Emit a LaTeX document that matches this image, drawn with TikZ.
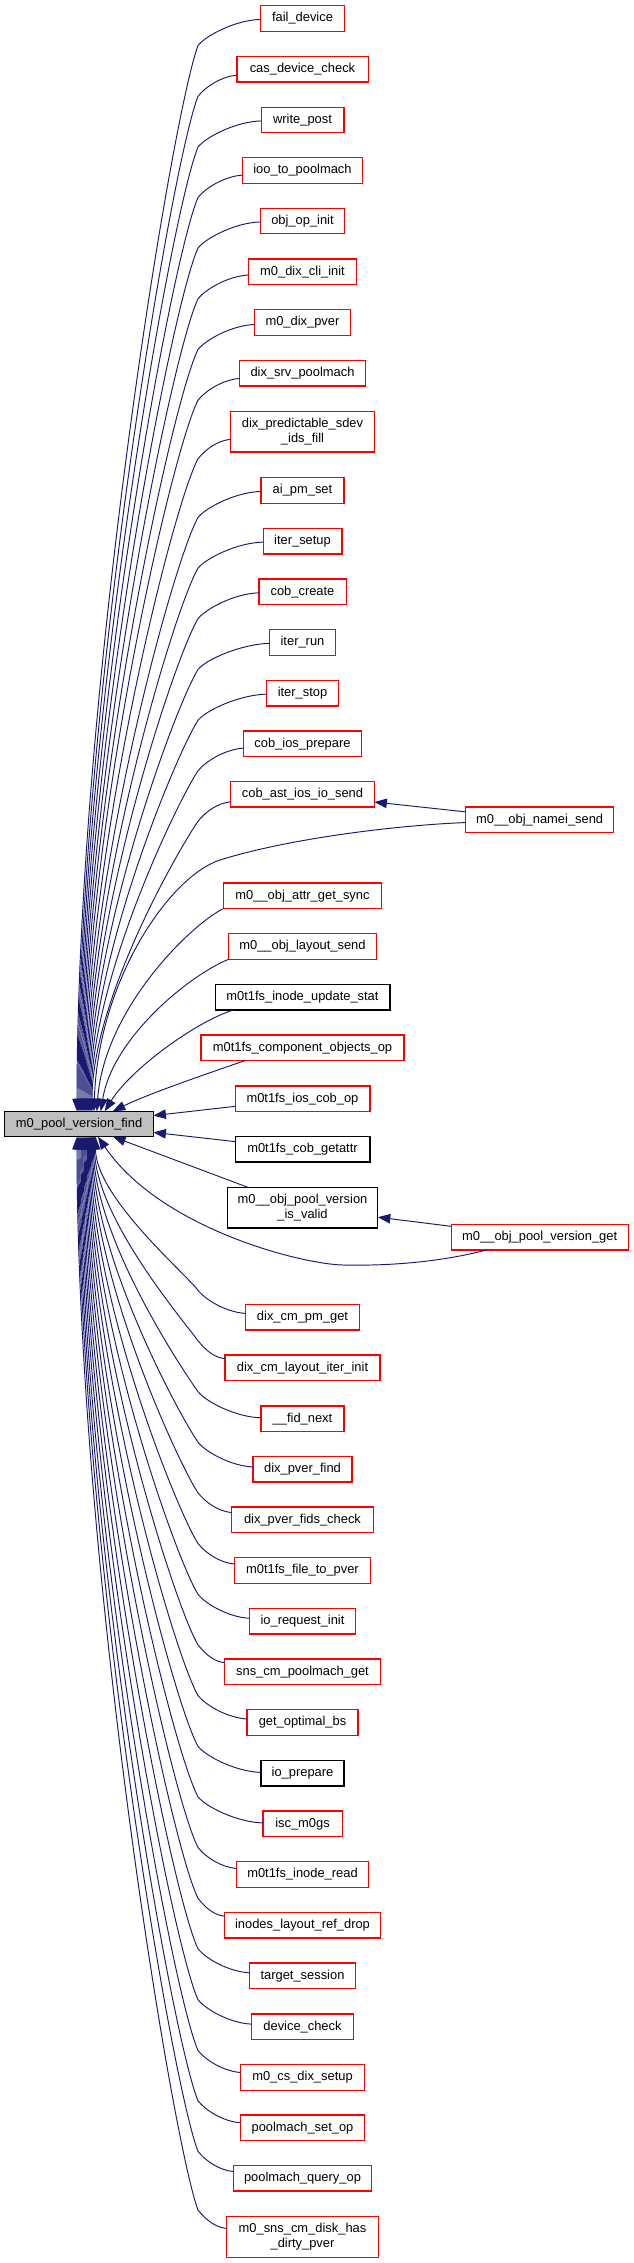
\documentclass[tikz,border=0pt]{standalone}
\usepackage{fontspec}
\setmainfont{Liberation Sans}
\usetikzlibrary{arrows.meta}
\definecolor{edgeblue}{HTML}{191970}
\definecolor{rootgray}{HTML}{BFBFBF}
\definecolor{boxred}{HTML}{FF0000}
\tikzset{
  fnbox/.style={draw=boxred, line width=1.2pt, minimum height=25.5pt, inner xsep=1pt, inner ysep=0pt, outer sep=0pt, font=\fontsize{12.9pt}{15pt}\selectfont, text=black},
  blk/.style={draw=black},
  twoline/.style={minimum height=40.3pt, align=center},
  rootbox/.style={draw=black, fill=rootgray},
  edge/.style={draw=edgeblue, line width=0.95pt, -{Triangle[length=12.5pt,width=9.5pt]}},
}
\newcommand\callernode[5]{%
  \node[fnbox,#4,minimum width=#3pt] (#1) at (302.5,#2) {#5};}
\newcommand\upedge[4]{%
  \pgfmathsetmacro\eXl{302.5-#3/2}%
  \pgfmathsetmacro\eBy{#2+27}%
  \pgfmathsetmacro\eD{1111-\eBy}%
  \pgfmathsetmacro\eS{max(0.37,0.37+0.3*(1064-\eD)/720)}%
  \pgfmathsetmacro\eL{0.06*\eD+8}%
  \pgfmathsetmacro\ePx{\eXl-0.4*(\eXl-198)}%
  \pgfmathsetmacro\ePy{#2+max(1.5,1.5+0.25*(260-\eXl))}%
  \pgfmathsetmacro\eQy{#2+17}%
  \pgfmathsetmacro\eRx{198-\eS*\eL}%
  \pgfmathsetmacro\eRy{\eBy+\eL}%
  \pgfmathsetmacro\eTy{1111-0.39*\eD}%
  \pgfmathsetmacro\eSh{#4-4.8}%
  \draw[edge] (#1) .. controls (\ePx,\ePy) and (206,\eQy) .. (198,\eBy) .. controls (\eRx,\eRy) and (#4,\eTy) .. ([xshift=\eSh pt]find.north west);}
\newcommand\downedge[4]{%
  \pgfmathsetmacro\eXl{302.5-#3/2}%
  \pgfmathsetmacro\eBy{#2-27}%
  \pgfmathsetmacro\eD{\eBy-1136.7}%
  \pgfmathsetmacro\eS{max(0.37,0.37+0.3*(1064-\eD)/720)}%
  \pgfmathsetmacro\eL{0.06*\eD+8}%
  \pgfmathsetmacro\ePx{\eXl-0.4*(\eXl-198)}%
  \pgfmathsetmacro\ePy{#2-max(1.5,1.5+0.25*(260-\eXl))}%
  \pgfmathsetmacro\eQy{#2-17}%
  \pgfmathsetmacro\eRx{198-\eS*\eL}%
  \pgfmathsetmacro\eRy{\eBy-\eL}%
  \pgfmathsetmacro\eTy{1136.7+0.39*\eD}%
  \pgfmathsetmacro\eSh{#4-4.8}%
  \draw[edge] (#1) .. controls (\ePx,\ePy) and (206,\eQy) .. (198,\eBy) .. controls (\eRx,\eRy) and (#4,\eTy) .. ([xshift=\eSh pt]find.south west);}
\begin{document}
\begin{tikzpicture}[x=1pt,y=-1pt]
\useasboundingbox (0,0) rectangle (633,2263);
% root
\node[fnbox,rootbox,minimum width=148.6pt] (find) at (79.1,1124) {m0\_pool\_version\_find};
% callers above
\callernode{n1}{18.5}{84}{}{fail\_device}
\callernode{n2}{69.3}{131.2}{}{cas\_device\_check}
\callernode{n3}{120}{82.8}{}{write\_post}
\callernode{n4}{170.5}{120.3}{}{ioo\_to\_poolmach}
\callernode{n5}{221}{84}{}{obj\_op\_init}
\callernode{n6}{271.8}{108.2}{}{m0\_dix\_cli\_init}
\callernode{n7}{322.5}{96.1}{}{m0\_dix\_pver}
\callernode{n8}{373.2}{126.4}{}{dix\_srv\_poolmach}
\callernode{n9}{431.8}{143.7}{twoline}{dix\_predictable\_sdev\\\_ids\_fill}
\callernode{n10}{490.5}{83}{}{ai\_pm\_set}
\callernode{n11}{541.2}{78.8}{}{iter\_setup}
\callernode{n12}{591.7}{87.2}{}{cob\_create}
\callernode{n13}{642.5}{65.3}{}{iter\_run}
\callernode{n14}{693.3}{71.9}{}{iter\_stop}
\callernode{n15}{743.8}{117.6}{}{cob\_ios\_prepare}
\callernode{n16}{794.3}{143.7}{}{cob\_ast\_ios\_io\_send}
\callernode{n17}{895.7}{157.7}{}{m0\_\_obj\_attr\_get\_sync}
\callernode{n18}{946.5}{147.8}{}{m0\_\_obj\_layout\_send}
\callernode{n19}{997.3}{174.8}{blk}{m0t1fs\_inode\_update\_stat}
\callernode{n20}{1047.8}{203}{}{m0t1fs\_component\_objects\_op}
\callernode{n21}{1098.7}{134.8}{}{m0t1fs\_ios\_cob\_op}
% callers below
\callernode{n22}{1149.2}{134.8}{blk}{m0t1fs\_cob\_getattr}
\callernode{n23}{1207.8}{150.6}{blk,twoline}{m0\_\_obj\_pool\_version\\\_is\_valid}
\callernode{n24}{1317.3}{114.7}{}{dix\_cm\_pm\_get}
\callernode{n25}{1367.7}{155}{}{dix\_cm\_layout\_iter\_init}
\callernode{n26}{1418.7}{83}{}{\_\_fid\_next}
\callernode{n27}{1469.2}{98.9}{}{dix\_pver\_find}
\callernode{n28}{1519.8}{141.7}{}{dix\_pver\_fids\_check}
\callernode{n29}{1570.5}{136}{}{m0t1fs\_file\_to\_pver}
\callernode{n30}{1621.3}{106.7}{}{io\_request\_init}
\callernode{n31}{1671.8}{155.8}{}{sns\_cm\_poolmach\_get}
\callernode{n32}{1722.5}{111}{}{get\_optimal\_bs}
\callernode{n33}{1773.3}{83}{blk}{io\_prepare}
\callernode{n34}{1823.8}{79.2}{}{isc\_m0gs}
\callernode{n35}{1874.5}{132}{}{m0t1fs\_inode\_read}
\callernode{n36}{1925.3}{155.8}{}{inodes\_layout\_ref\_drop}
\callernode{n37}{1975.8}{106.7}{}{target\_session}
\callernode{n38}{2026.7}{102.6}{}{device\_check}
\callernode{n39}{2077.5}{124}{}{m0\_cs\_dix\_setup}
\callernode{n40}{2127.8}{124}{}{poolmach\_set\_op}
\callernode{n41}{2178.3}{138.5}{}{poolmach\_query\_op}
\callernode{n42}{2237}{151.8}{twoline}{m0\_sns\_cm\_disk\_has\\\_dirty\_pver}
% right column
\node[fnbox,minimum width=148.1pt] (r1) at (539.7,819.8) {m0\_\_obj\_namei\_send};
\node[fnbox,minimum width=176.8pt] (r2) at (539.7,1237.3) {m0\_\_obj\_pool\_version\_get};
% edges from upper callers
\upedge{n1}{18.5}{84}{77}
\upedge{n2}{69.3}{131.2}{78}
\upedge{n3}{120}{82.8}{79}
\upedge{n4}{170.5}{120.3}{80}
\upedge{n5}{221}{84}{81}
\upedge{n6}{271.8}{108.2}{82}
\upedge{n7}{322.5}{96.1}{83}
\upedge{n8}{373.2}{126.4}{84}
\upedge{n9}{431.8}{143.7}{85}
\upedge{n10}{490.5}{83}{86}
\upedge{n11}{541.2}{78.8}{87}
\upedge{n12}{591.7}{87.2}{88}
\upedge{n13}{642.5}{65.3}{89}
\upedge{n14}{693.3}{71.9}{90}
\upedge{n15}{743.8}{117.6}{91}
\upedge{n16}{794.3}{143.7}{92}
\draw[edge] (n17.south west) .. controls (190,925) and (104,1010) .. ([xshift=92pt]find.north west);
\draw[edge] (n18.south west) .. controls (186,977) and (112,1040) .. ([xshift=96pt]find.north west);
\draw[edge] ([xshift=18pt]n19.south west) .. controls (195,1022) and (130,1070) .. ([xshift=100pt]find.north west);
\draw[edge] ([xshift=44pt]n20.south west) .. controls (215,1071) and (150,1093) .. ([xshift=108pt]find.north west);
\draw[edge] (n21) -- (find);
\draw[edge] (n22) -- (find);
\draw[edge] (n23) -- (find);
% right column edges
\draw[edge] (r1) -- (n16);
\draw[edge] (r1) .. controls (400,825) and (290,838) .. (220,860) .. controls (170,876) and (98,980) .. ([xshift=89.2pt]find.north west);
\draw[edge] (r2) -- (n23);
\draw[edge] ([xshift=35pt]r2.south west) .. controls (440,1262) and (390,1266) .. (343,1265) .. controls (300,1264) and (160,1228) .. ([xshift=93.2pt]find.south west);
% edges from lower callers
\downedge{n24}{1317.3}{114.7}{95.5}
\downedge{n25}{1367.7}{155}{94.5}
\downedge{n26}{1418.7}{83}{93.4}
\downedge{n27}{1469.2}{98.9}{92.4}
\downedge{n28}{1519.8}{141.7}{91.4}
\downedge{n29}{1570.5}{136}{90.3}
\downedge{n30}{1621.3}{106.7}{89.3}
\downedge{n31}{1671.8}{155.8}{88.3}
\downedge{n32}{1722.5}{111}{87.3}
\downedge{n33}{1773.3}{83}{86.2}
\downedge{n34}{1823.8}{79.2}{85.2}
\downedge{n35}{1874.5}{132}{84.2}
\downedge{n36}{1925.3}{155.8}{83.1}
\downedge{n37}{1975.8}{106.7}{82.1}
\downedge{n38}{2026.7}{102.6}{81.1}
\downedge{n39}{2077.5}{124}{80}
\downedge{n40}{2127.8}{124}{79}
\downedge{n41}{2178.3}{138.5}{78}
\downedge{n42}{2237}{151.8}{77}
\end{tikzpicture}
\end{document}
